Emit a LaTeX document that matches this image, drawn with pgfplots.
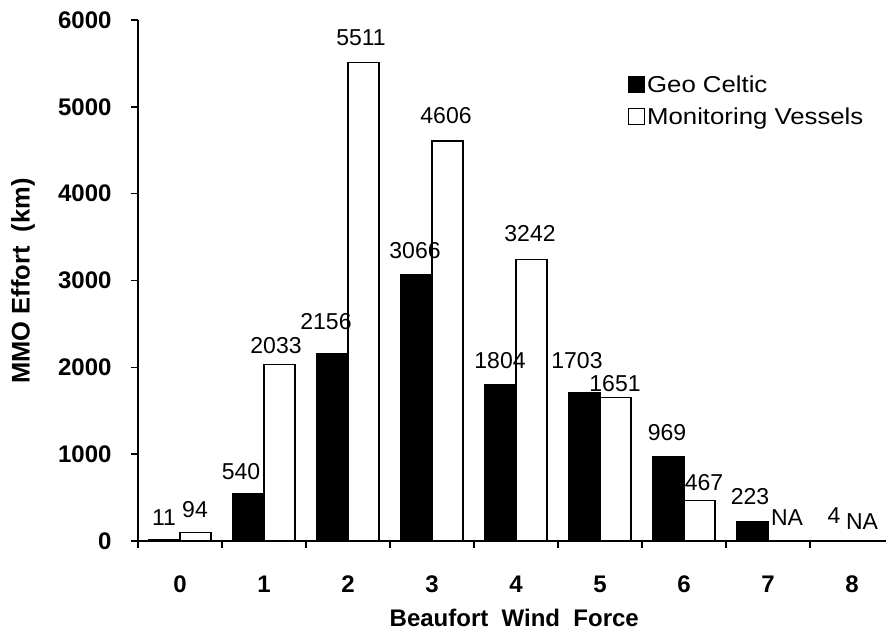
\documentclass[border=0pt]{standalone}
\usepackage{fontspec}
\setmainfont{Liberation Sans}
\newfontfamily\legfont[FakeStretch=1.12]{Liberation Sans}
\usepackage{pgfplots}
\pgfplotsset{compat=1.18}
\newcommand{\lbl}{\fontsize{23}{27}\selectfont}
\newcommand{\tlbl}{\fontsize{24}{28}\selectfont\bfseries}
\begin{document}
\begin{tikzpicture}
\useasboundingbox (0,0) rectangle (886pt,632pt);
\begin{axis}[
  at={(138pt,91pt)}, anchor=south west,
  scale only axis, width=748pt, height=521pt,
  xmin=-0.5, xmax=8.405, ymin=0, ymax=6000,
  axis x line*=bottom, axis y line*=left,
  axis line style={line width=1.5pt},
  tick align=outside, major tick length=7pt,
  tick style={black, line width=1.5pt},
  /pgf/number format/assume math mode=true,
  /pgf/number format/1000 sep={},
  ytick={0,1000,2000,3000,4000,5000,6000},
  yticklabel style={font=\tlbl, xshift=-16pt},
  xtick={-0.5,0.5,1.5,2.5,3.5,4.5,5.5,6.5,7.5},
  xticklabels={},
  extra x ticks={0,1,2,3,4,5,6,7,8},
  extra x tick labels={0,1,2,3,4,5,6,7,8},
  extra x tick style={major tick length=0pt, xticklabel style={font=\tlbl, yshift=-31pt}},
  xlabel={Beaufort\ \ Wind\ \ Force},
  ylabel={MMO Effort\ \ (km)},
  every axis x label/.style={at={(axis description cs:0.503,-0.165)}, anchor=base, font=\fontsize{24}{28}\selectfont\bfseries},
  every axis y label/.style={at={(axis description cs:-0.1537,0.499)}, rotate=90, anchor=center, font=\fontsize{25.5}{29}\selectfont\bfseries},
  legend style={at={(rel axis cs:0.655,0.898)}, anchor=north west, draw=none, fill=none, font=\legfont\fontsize{23}{27}\selectfont, row sep=10pt, inner sep=0pt},
  legend cell align=left,
  clip=false,
]
\addplot[ybar, bar width=31pt, bar shift=-15.5pt, fill=black, draw=black, line width=1.3pt,
  legend image code/.code={\draw[fill=black,draw=black,line width=1pt] (0pt,-8pt) rectangle (16pt,8pt);}]
  coordinates {(0,11) (1,540) (2,2156) (3,3066) (4,1804) (5,1703) (6,969) (7,223) (8,4)};
\addlegendentry{Geo Celtic}
\addplot[ybar, bar width=31pt, bar shift=15.5pt, fill=white, draw=black, line width=1.3pt,
  legend image code/.code={\draw[fill=white,draw=black,line width=1pt] (0pt,-8pt) rectangle (16pt,8pt);}]
  coordinates {(0,94) (1,2033) (2,5511) (3,4606) (4,3242) (5,1651) (6,467)};
\addlegendentry{Monitoring Vessels}
\begin{scope}[every node/.style={font=\lbl, anchor=base, inner sep=0pt}]
\node at (axis cs:-0.190,184) {11};
\node at (axis cs:0.179,276) {94};
\node at (axis cs:0.726,714) {540};
\node at (axis cs:1.143,2165) {2033};
\node at (axis cs:1.738,2430) {2156};
\node at (axis cs:2.155,5712) {5511};
\node at (axis cs:2.798,3259) {3066};
\node at (axis cs:3.167,4803) {4606};
\node at (axis cs:4.167,3444) {3242};
\node at (axis cs:3.810,1992) {1804};
\node at (axis cs:4.726,1992) {1703};
\node at (axis cs:5.179,1716) {1651};
\node at (axis cs:5.798,1152) {969};
\node at (axis cs:6.238,587) {467};
\node at (axis cs:6.786,415) {223};
\node at (axis cs:7.226,173) {NA};
\node at (axis cs:7.786,207) {4};
\node at (axis cs:8.119,127) {NA};
\end{scope}
\end{axis}
\end{tikzpicture}
\end{document}
